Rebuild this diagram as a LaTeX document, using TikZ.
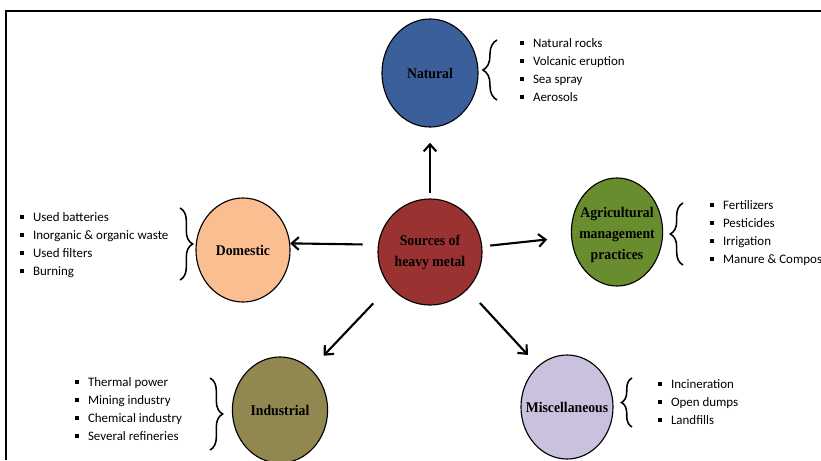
\documentclass[tikz,border=0pt]{standalone}
\usepackage{fontspec}
\setmainfont{Liberation Serif}
\newfontfamily\lblfont{Liberation Serif}[FakeStretch=0.93]
\newfontfamily\listfont{Carlito}
\usetikzlibrary{positioning, shapes, arrows.meta, decorations.pathreplacing}
\definecolor{natblue}{RGB}{59,95,155}
\definecolor{srcred}{RGB}{155,50,50}
\definecolor{dompeach}{RGB}{250,190,145}
\definecolor{agrgreen}{RGB}{104,140,46}
\definecolor{indkhaki}{RGB}{145,135,80}
\definecolor{misclav}{RGB}{201,193,221}
\newcommand{\sqb}{\rule[0.2em]{0.28em}{0.28em}\hspace{6.5pt}}
\tikzset{
  blob/.style={ellipse, draw=black, line width=0.8pt, inner sep=0pt},
  lbl/.style={align=center, font=\lblfont\bfseries\fontsize{10.5}{15}\selectfont},
  arr/.style={-{Straight Barb[length=5pt,width=9pt]}, line width=1.5pt},
  brc/.style={decorate, decoration={brace, amplitude=9pt}, line width=1.1pt},
  lst/.style={anchor=west, align=left, inner sep=0pt,
    font=\listfont\fontsize{9.2}{12.8}\selectfont}}
\begin{document}
\begin{tikzpicture}[x=0.025cm, y=-0.025cm]
\useasboundingbox (0,0) rectangle (821,460);
\draw [line width=1.5pt] (6,460) -- (6,11) -- (821,11);
\node [blob, fill=srcred, minimum width=2.6cm, minimum height=2.65cm,
  label={[lbl]center:Sources of\\heavy metal}] (src) at (430,252) {};
\node [blob, fill=natblue, minimum width=2.4cm, minimum height=2.7cm,
  label={[lbl]center:Natural}] (nat) at (430,73) {};
\node [blob, fill=dompeach, minimum width=2.35cm, minimum height=2.6cm,
  label={[lbl]center:Domestic}] (dom) at (243,250) {};
\node [blob, fill=agrgreen, minimum width=2.28cm, minimum height=2.7cm,
  label={[lbl, yshift=-0.08cm]center:Agricultural\\management\\practices}] (agr) at (617,232) {};
\node [blob, fill=indkhaki, minimum width=2.38cm, minimum height=2.65cm,
  label={[lbl]center:Industrial}] (ind) at (280,410) {};
\node [blob, fill=misclav, minimum width=2.3cm, minimum height=2.6cm,
  label={[lbl]center:Miscellaneous}] (misc) at (567,407) {};
\draw [arr, shorten <=0.13cm, shorten >=0.38cm] (src) -- (nat);
\draw [arr, shorten <=0.38cm] (src.172) -- (dom.8);
\draw [arr, shorten <=0.2cm, shorten >=0.6cm] (src) -- (agr);
\draw [arr, shorten <=1.77cm, shorten >=1.87cm] ([xshift=-0.2cm]src.center) -- ([xshift=-0.2cm]ind.center);
\draw [arr, shorten <=1.73cm, shorten >=1.77cm] ([xshift=0.075cm]src.center) -- ([xshift=0.22cm]misc.center);
\node [lst] (natlist) at (520,70) {\sqb Natural rocks\\\sqb Volcanic eruption\\\sqb Sea spray\\\sqb Aerosols};
\node [lst] (domlist) at (20,245) {\sqb Used batteries\\\sqb Inorganic \& organic waste\\\sqb Used filters\\\sqb Burning};
\node [lst] (agrlist) at (710,233) {\sqb Fertilizers\\\sqb Pesticides\\\sqb Irrigation\\\sqb Manure \& Compos};
\node [lst] (indlist) at (75,409) {\sqb Thermal power\\\sqb Mining industry\\\sqb Chemical industry\\\sqb Several refineries};
\node [lst] (misclist) at (658,402) {\sqb Incineration\\\sqb Open dumps\\\sqb Landfills};
\draw [brc, decoration={amplitude=10pt}] (497,100) -- (497,40);
\draw [brc] (180,208) -- (180,280);
\draw [brc] (683,265) -- (683,203);
\draw [brc] (210,378) -- (210,450);
\draw [brc, decoration={amplitude=7.5pt}] (632,427) -- (632,378);
\end{tikzpicture}
\end{document}
